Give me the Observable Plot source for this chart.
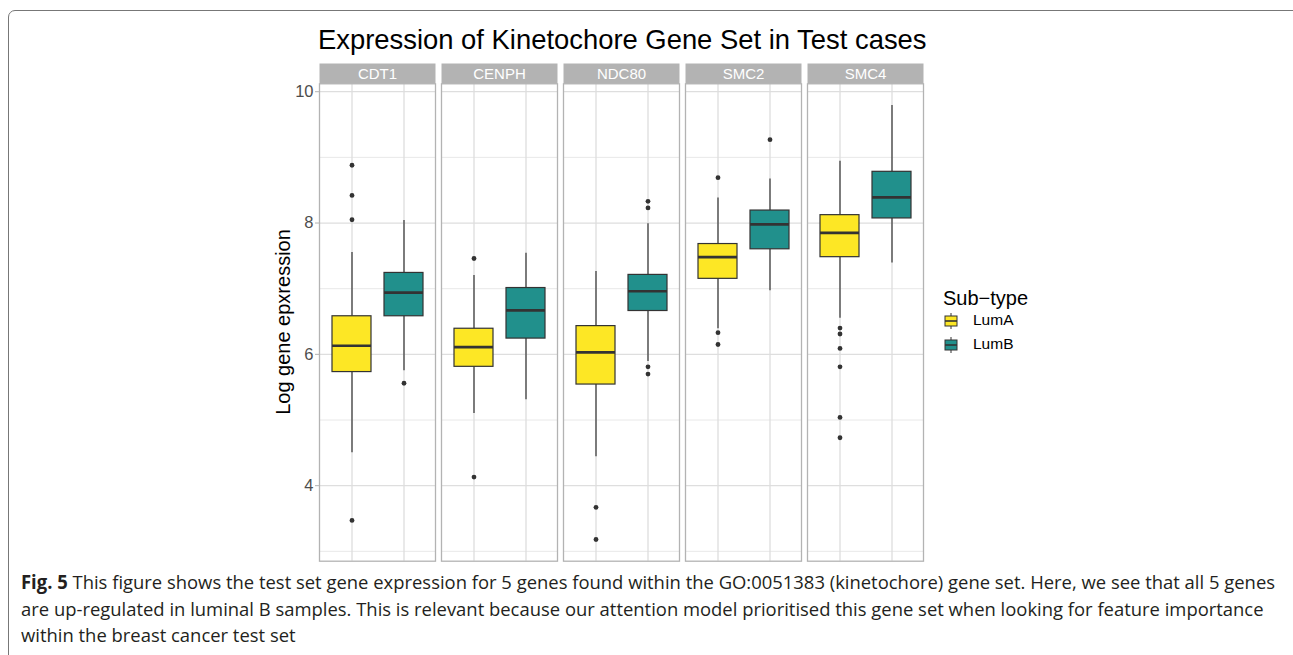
<!DOCTYPE html>
<html><head><meta charset="utf-8">
<script src="https://cdn.jsdelivr.net/npm/d3@7"></script>
<script src="https://cdn.jsdelivr.net/npm/@observablehq/plot@0.6"></script>
<style>
body{margin:0;background:#fff;}
#wrap{position:relative;width:1293px;height:655px;overflow:hidden;font-family:"Liberation Sans",Arimo,Helvetica,Arial,sans-serif;}
#frame{position:absolute;left:8px;top:10px;width:1292px;height:700px;border:1.3px solid #777;border-radius:7px;box-sizing:border-box;}
#chart{position:absolute;left:0;top:0;}
#title{position:absolute;left:318px;top:24px;font-size:27.4px;line-height:32px;color:#000;white-space:nowrap;}
#ylab{position:absolute;left:283px;top:322px;transform:translate(-50%,-50%) rotate(-90deg);font-size:20px;white-space:nowrap;color:#000;}
#legend{position:absolute;left:943px;top:286px;}
#legend .lt{font-size:20px;line-height:24px;color:#000;white-space:nowrap;}
#legend .row{position:relative;height:24px;}
#legend .row span{position:absolute;left:30px;top:1px;font-size:15.5px;color:#000;}
#legend .row svg{position:absolute;left:0;top:0;}
#caption{position:absolute;left:21px;top:569px;font-family:"Open Sans","Noto Sans",sans-serif;font-size:19px;line-height:26.5px;color:#231f20;white-space:nowrap;transform-origin:0 0;}
#caption b{font-weight:700;}
</style></head><body>
<div id="wrap"><div id="frame"></div><div id="chart"></div><div id="title"></div><div id="ylab"></div><div id="legend"></div><div id="caption"></div></div>
<script>
// ---- data ----
const genes = ["CDT1", "CENPH", "NDC80", "SMC2", "SMC4"];
const subtypes = ["LumA", "LumB"];
const colors = ["#FDE725", "#21908C"];
const yTicks = [4, 6, 8, 10];
const yMinor = [3, 5, 7, 9];

const lumA_lo  = [4.50, 5.10, 4.44, 6.39, 6.55];
const lumA_q1  = [5.73, 5.81, 5.54, 7.15, 7.48];
const lumA_med = [6.13, 6.11, 6.03, 7.48, 7.85];
const lumA_q3  = [6.58, 6.39, 6.43, 7.68, 8.12];
const lumA_hi  = [7.55, 7.20, 7.26, 8.38, 8.94];
const lumA_out = [[8.88, 8.42, 8.05, 3.47], [7.46, 4.13], [3.67, 3.18], [8.69, 6.33, 6.15], [6.40, 6.31, 6.09, 5.81, 5.04, 4.73]];

const lumB_lo  = [5.75, 5.31, 5.89, 6.97, 7.39];
const lumB_q1  = [6.58, 6.24, 6.66, 7.60, 8.07];
const lumB_med = [6.94, 6.67, 6.96, 7.98, 8.39];
const lumB_q3  = [7.24, 7.01, 7.21, 8.19, 8.78];
const lumB_hi  = [8.04, 7.54, 7.99, 8.67, 9.79];
const lumB_out = [[5.56], [], [8.33, 8.23, 5.81, 5.70], [9.27], []];

const titleText = "Expression of Kinetochore Gene Set in Test cases";
const yLabel = "Log gene epxression";
const legendTitle = "Sub\u2212type";
const captionBold = "Fig. 5";
const captionLines = [
  " This figure shows the test set gene expression for 5 genes found within the GO:0051383 (kinetochore) gene set. Here, we see that all 5 genes",
  "are up-regulated in luminal B samples. This is relevant because our attention model prioritised this gene set when looking for feature importance",
  "within the breast cancer test set"
];

// ---- build tables ----
const stats = {LumA: [lumA_lo, lumA_q1, lumA_med, lumA_q3, lumA_hi, lumA_out],
               LumB: [lumB_lo, lumB_q1, lumB_med, lumB_q3, lumB_hi, lumB_out]};
const rows = [], outs = [];
genes.forEach((g, i) => {
  subtypes.forEach(s => {
    const [lo, q1, med, q3, hi, out] = stats[s];
    rows.push({gene: g, sub: s, lo: lo[i], q1: q1[i], med: med[i], q3: q3[i], hi: hi[i]});
    out[i].forEach(v => outs.push({gene: g, sub: s, v}));
  });
});
const allVals = rows.flatMap(r => [r.lo, r.hi]).concat(outs.map(o => o.v));
const [mn, mx] = d3.extent(allVals);
const pad = (mx - mn) * 0.05;

const W = 1293, H = 575;
const fontFam = '"Liberation Sans", Arimo, Helvetica, Arial, sans-serif';

const stripFrame = Plot.frame({
  fill: "#b3b3b3", stroke: null,
  render(index, scales, values, dimensions, context, next) {
    const g = next(index, scales, values, dimensions, context);
    const r = g.tagName && g.tagName.toLowerCase() === "rect" ? g : g.querySelector("rect");
    r.setAttribute("y", dimensions.marginTop - 20.3);
    r.setAttribute("height", 20.3);
    return g;
  }
});

const chart = Plot.plot({
  width: W, height: H,
  marginLeft: 318, marginRight: W - 924, marginTop: 83.3, marginBottom: H - 560.7,
  style: {background: "transparent", fontFamily: fontFam, overflow: "visible"},
  fx: {domain: genes, paddingInner: 0.053, paddingOuter: 0, axis: null, label: null},
  x: {domain: subtypes, paddingInner: 0.25, paddingOuter: 0.225, axis: null},
  y: {domain: [mn - pad, mx + pad], axis: null},
  color: {domain: subtypes, range: colors},
  marks: [
    Plot.ruleY(yMinor, {stroke: "#e8e8e8", strokeWidth: 1}),
    Plot.ruleY(yTicks, {stroke: "#dedede", strokeWidth: 1.3}),
    Plot.ruleX(subtypes, {x: d => d, stroke: "#dedede", strokeWidth: 1.3}),
    Plot.ruleX(rows, {fx: "gene", x: "sub", y1: "lo", y2: "q1", stroke: "#333333", strokeWidth: 1.2}),
    Plot.ruleX(rows, {fx: "gene", x: "sub", y1: "q3", y2: "hi", stroke: "#333333", strokeWidth: 1.2}),
    Plot.barY(rows, {fx: "gene", x: "sub", y1: "q1", y2: "q3", fill: "sub", stroke: "#333333", strokeWidth: 1.2}),
    Plot.tickY(rows, {fx: "gene", x: "sub", y: "med", stroke: "#333333", strokeWidth: 2.6}),
    Plot.dot(outs, {fx: "gene", x: "sub", y: "v", r: 2.4, fill: "#333333", stroke: null}),
    Plot.frame({stroke: "#b3b3b3", strokeWidth: 1.3}),
    stripFrame,
    Plot.text(genes, {fx: d => d, text: d => d, frameAnchor: "top", lineAnchor: "middle", dy: -10, fill: "white", fontSize: 15}),
    Plot.axisY({ticks: yTicks, tickSize: 4, tickPadding: 2, fontSize: 16.5, fill: "#4d4d4d", stroke: "#b3b3b3", label: null})
  ]
});
document.getElementById("chart").appendChild(chart);

document.getElementById("title").textContent = titleText;
document.getElementById("ylab").textContent = yLabel;

// legend
const leg = document.getElementById("legend");
const lt = document.createElement("div"); lt.className = "lt"; lt.textContent = legendTitle; leg.appendChild(lt);
subtypes.forEach((s, i) => {
  const row = document.createElement("div"); row.className = "row";
  row.innerHTML = `<svg width="22" height="22"><line x1="8" x2="8" y1="3" y2="19" stroke="#333" stroke-width="1"/>` +
    `<rect x="2" y="6" width="12" height="10" fill="${colors[i]}" stroke="#333" stroke-width="1"/>` +
    `<line x1="2" x2="14" y1="11" y2="11" stroke="#333" stroke-width="1.6"/></svg><span>${s}</span>`;
  leg.appendChild(row);
});

// caption
const cap = document.getElementById("caption");
captionLines.forEach((t, i) => {
  const d = document.createElement("div");
  if (i === 0) { const b = document.createElement("b"); b.textContent = captionBold; d.appendChild(b); }
  d.appendChild(document.createTextNode(t));
  cap.appendChild(d);
});
const w0 = cap.firstChild.getBoundingClientRect().width;
cap.style.transform = `scaleX(${1254 / w0})`;
</script>
</body></html>
